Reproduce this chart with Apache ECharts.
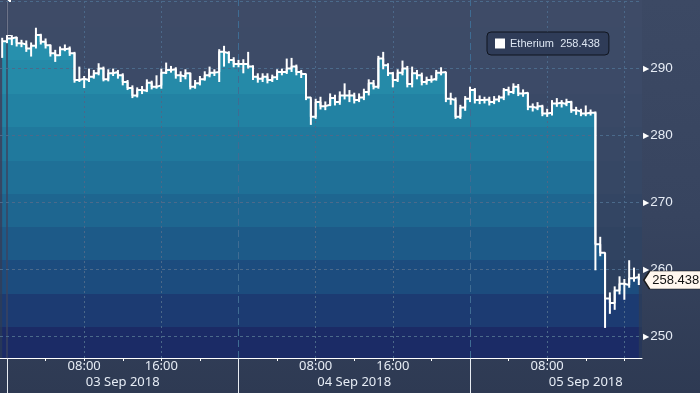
<!DOCTYPE html>
<html><head><meta charset="utf-8">
<script src="https://cdn.jsdelivr.net/npm/echarts@6/dist/echarts.min.js"></script>
<style>
html,body{margin:0;padding:0;background:#2e3a53;}
#c{width:700px;height:393px;background:linear-gradient(#3c4964 0%,#37445f 55%,#2e3a53 100%);}
</style>
</head><body><div id="c"></div>
<script>
// ---------- data ----------
const seriesName = 'Etherium';
const startHour = -0.5;   // first bar: 02 Sep 23:30 (hours from 03 Sep 00:00)
const stepHours = 0.5;    // 30-minute bars
const closes = [
294.1,294.5,294.7,293.8,293.6,293.0,293.4,295.0,294.0,293.5,
292.3,292.0,292.9,293.0,292.3,288.3,288.5,288.3,288.8,289.3,
290.0,288.4,289.3,289.5,289.0,288.0,287.1,286.0,286.8,286.7,
287.9,287.3,287.5,289.4,289.8,289.9,289.0,288.8,289.3,287.3,
287.8,288.4,289.0,289.4,289.5,292.5,292.3,291.3,290.7,290.7,
290.7,290.3,288.8,288.5,288.8,288.3,288.7,289.5,289.5,290.0,
290.3,289.5,289.2,285.7,282.8,285.0,284.4,284.6,285.6,285.0,
286.0,286.0,286.0,285.3,285.7,286.5,287.8,287.3,291.5,290.5,
289.3,288.3,289.4,290.0,287.7,289.3,289.0,288.0,288.3,288.5,
289.4,289.5,285.5,285.3,282.8,284.2,285.5,286.8,285.3,285.3,
285.4,285.0,285.4,285.7,286.8,286.5,287.3,286.3,286.4,284.3,
284.1,284.4,283.3,283.4,284.8,284.9,284.7,285.0,283.8,283.6,
283.3,283.4,283.4,263.8,262.5,255.7,255.0,256.9,257.9,257.7,
258.7,258.9,258.438];
const highs = [
294.6,295.0,295.0,294.7,294.3,294.2,293.9,296.1,295.2,294.5,
293.6,292.8,293.3,293.6,293.3,292.5,290.3,288.9,290.0,289.8,
290.8,290.3,289.9,290.0,289.8,289.3,288.3,287.5,287.2,287.4,
288.4,288.2,289.0,290.0,290.9,290.4,290.2,289.6,289.9,289.4,
288.3,288.9,289.6,290.3,289.9,292.9,293.4,292.6,291.7,291.3,
291.4,292.5,290.5,289.3,289.3,289.3,289.1,289.9,290.0,291.5,
291.6,290.6,289.8,289.2,285.4,285.5,285.8,285.1,286.3,286.1,
286.6,287.8,286.8,286.4,286.3,287.0,288.4,288.3,291.9,292.5,
290.8,289.5,289.9,291.2,290.4,290.3,289.8,289.4,288.8,289.0,
289.8,290.2,289.5,286.4,285.7,284.6,285.9,287.3,287.1,286.0,
285.8,285.8,285.9,286.0,287.1,287.3,287.8,287.7,286.9,286.4,
284.8,285.0,284.6,284.0,285.3,285.6,285.3,285.5,285.2,284.3,
284.0,284.5,283.9,283.6,264.9,262.5,256.6,257.5,259.0,258.6,
261.4,260.3,259.4];
const lows = [
291.6,293.8,293.5,293.3,293.2,292.5,291.8,293.0,293.6,293.0,
291.8,291.0,291.9,292.6,291.9,287.9,288.0,287.1,288.0,288.5,
289.0,288.1,288.1,288.9,288.5,287.5,286.8,285.6,285.7,286.2,
286.5,286.9,287.0,287.0,289.2,289.4,288.5,288.0,288.4,286.9,
287.0,287.5,288.2,288.7,288.9,288.0,290.3,290.8,290.2,290.2,
289.3,290.0,288.3,287.9,288.0,287.8,288.0,288.3,289.0,289.2,
289.5,289.0,288.6,285.3,281.6,282.5,283.9,283.8,284.4,284.5,
284.6,285.4,285.0,284.8,285.0,285.3,286.0,286.9,287.0,289.9,
288.9,287.2,288.0,289.0,287.2,287.2,288.4,287.5,287.6,287.9,
288.2,289.0,285.0,284.6,282.5,282.5,283.7,285.0,284.8,284.7,
284.8,284.5,284.7,285.0,285.3,286.0,286.2,285.9,285.8,283.8,
283.6,283.8,282.9,282.8,283.0,284.3,284.2,284.4,283.4,283.1,
282.9,282.9,283.0,259.9,262.0,251.3,253.4,254.0,256.3,255.5,
257.3,258.2,257.7];
const lastPrice = 258.438;

const hourTicks  = [4,8,12,16,20,28,32,36,40,44,52,56,60,64];
const hourLabels = [8,16,32,40,56];
const dayStarts  = [0,24,48];
const dayMids    = [12,36,60];
const dayLabels  = ['03 Sep 2018','04 Sep 2018','05 Sep 2018'];
const gridHours  = [8,16,32,40,56,64];
const priceLines = [250,260,270,280,290,300];
const xMin = -0.7257, xMax = 65.83;
const yMin = 246.81, yMax = 300.24;

// ---------- styles ----------
const FONT = 'Liberation Sans';
const XFONT = 'Noto Sans';
const bandEdges = [27,60.5,94,127,160.5,194,227,260.5,294,327];
const plotH = 358;
const fillBands = ['#2993af','#2790ad','#258aa8','#2282a3','#20799d','#1f7097','#1e6690','#1d5a88','#1c4c7e','#1c3b72','#1b2b66'];
const bgBands   = ['#3e4b67','#3d4b67','#3c4a67','#3a4966','#384865','#364764','#334563','#304361','#2d405f','#2a3c5c','#273759'];
function banded(colors){
  const e=[0].concat(bandEdges.map(v=>v/plotH),[1]);
  const stops=[];
  colors.forEach((c,i)=>{stops.push({offset:e[i],color:c});stops.push({offset:e[i+1],color:c});});
  return new echarts.graphic.LinearGradient(0,0,0,plotH,stops,true);
}

const times = closes.map((c,i)=>startHour+i*stepHours);
const lineData = closes.map((c,i)=>[times[i],c]);
const barData = closes.map((c,i)=>[times[i],lows[i],highs[i]]);
const lastTime = times[times.length-1];
const pad = n => (n<10?'0':'')+n;

const markLines = [];
dayStarts.forEach((h,i)=>markLines.push({xAxis:h,lineStyle:i===0?{color:'#3b4560',width:1.5,type:'solid'}:{color:'#3f6c93',width:1,type:[7,4]}}));
gridHours.forEach(h=>markLines.push({xAxis:h,lineStyle:{color:'#4b6889',width:1,type:[2,3]}}));
priceLines.forEach(v=>markLines.push({yAxis:v,lineStyle:{color:'#4b6a8b',width:1,type:[3,3]}}));

const chart = echarts.init(document.getElementById('c'));
chart.setOption({
  animation:false,
  backgroundColor:'transparent',
  textStyle:{fontFamily:FONT},
  grid:{left:0,right:58,top:0,bottom:35,show:true,backgroundColor:banded(bgBands),borderWidth:0},
  legend:{
    data:[seriesName],left:487,top:32,padding:[6,9,6,8],
    backgroundColor:'#2f3c58',borderColor:'#10151f',borderWidth:1,borderRadius:4,
    icon:'rect',itemWidth:10,itemHeight:10,itemGap:0,
    textStyle:{color:'#dde6f2',fontFamily:FONT,fontSize:11},
    formatter:n=>n+'  '+lastPrice.toFixed(3),
    selectedMode:false
  },
  xAxis:[
    {type:'value',min:xMin,max:xMax,position:'bottom',
     axisLine:{show:true,lineStyle:{color:'#ffffff',width:1}},
     axisTick:{show:true,customValues:hourTicks,length:3,lineStyle:{color:'#ffffff'}},
     axisLabel:{customValues:hourLabels,formatter:h=>pad(Math.round(h)%24)+':00',color:'#e6ecf5',fontFamily:XFONT,fontSize:13,margin:2},
     splitLine:{show:false}},
    {type:'value',min:xMin,max:xMax,position:'bottom',
     axisLine:{show:false},
     axisTick:{show:true,customValues:dayStarts,length:35,lineStyle:{color:'#e8ecf2'}},
     axisLabel:{customValues:dayMids,formatter:h=>dayLabels[Math.round((h-12)/24)],color:'#e6ecf5',fontFamily:XFONT,fontSize:13,margin:18},
     splitLine:{show:false}}
  ],
  yAxis:[{type:'value',position:'right',min:yMin,max:yMax,splitNumber:10,
    axisLine:{show:true,lineStyle:{color:'#ffffff',width:1}},
    axisTick:{show:true,length:4,lineStyle:{color:'#ffffff'}},
    splitLine:{show:false},
    axisLabel:{margin:1,
      formatter:v=>{const r=Math.round(v);return (Math.abs(v-r)<1e-6&&r%10===0&&r>=250&&r<300)?'{t|▶}{v|'+r+'}':'';},
      rich:{t:{color:'#ffffff',fontSize:8,fontFamily:'DejaVu Sans'},v:{color:'#e6ecf5',fontSize:13.5,fontFamily:FONT,padding:[0,0,0,1]}}}
  }],
  series:[
    {name:'fill',type:'line',step:'end',data:lineData,symbol:'none',silent:true,
     lineStyle:{width:0},areaStyle:{color:banded(fillBands),opacity:1},z:1},
    {name:'grid',type:'line',data:[],symbol:'none',silent:true,
     markLine:{silent:true,symbol:'none',z:2,label:{show:false},data:markLines}},
    {name:seriesName,type:'line',step:'end',data:lineData,symbol:'none',silent:true,z:3,
     lineStyle:{color:'#ffffff',width:2},itemStyle:{color:'#ffffff'},
     markPoint:{silent:true,z:10,
       symbol:'path://M0,9L6,0L60,0L60,18L6,18Z',symbolSize:[58,18],symbolKeepAspect:false,symbolOffset:[34,0],
       itemStyle:{color:'#fff7ef',borderColor:'#1a1a1a',borderWidth:1},
       label:{show:true,position:'inside',formatter:lastPrice.toFixed(3),color:'#111111',fontFamily:FONT,fontSize:13,offset:[3,0]},
       data:[{coord:[lastTime,lastPrice]}]}},
    {name:'hl',type:'custom',data:barData,silent:true,z:3,encode:{x:0,y:[1,2]},
     renderItem:(params,api)=>{
       const a=api.coord([api.value(0),api.value(1)]);
       const b=api.coord([api.value(0),api.value(2)]);
       return {type:'line',shape:{x1:a[0],y1:a[1],x2:b[0],y2:b[1]},style:{stroke:'#ffffff',lineWidth:2}};
     }}
  ]
});
</script>
</body></html>
